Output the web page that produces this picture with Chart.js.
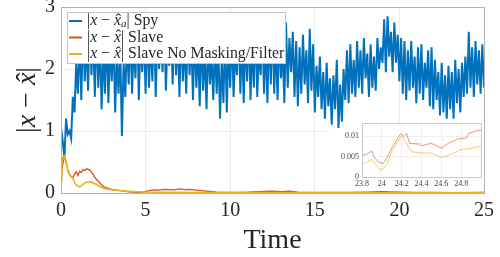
<!DOCTYPE html>
<html>
<head>
<meta charset="utf-8">
<script src="https://cdn.jsdelivr.net/npm/chart.js@4.4.0/dist/chart.umd.min.js"></script>
<style>
html, body { margin: 0; padding: 0; background: #fff; }
#wrap { position: relative; width: 500px; height: 257px; }
#inset { position: absolute; left: 328px; top: 117px; width: 156px; height: 74px; }
</style>
</head>
<body>
<div id="wrap">
  <canvas id="chart" width="500" height="257"></canvas>
  <div id="inset"><canvas id="zoom" width="156" height="74"></canvas></div>
</div>
<script>
// legend texts (x = italic, x̂ = x with hat, ₐ = subscript a)
var seriesLabels = ['|x − x̂ₐ| Spy', '|x − x̂| Slave', '|x − x̂| Slave No Masking/Filter'];
var seriesColors = ['#0072BD', '#D95319', '#EDB120'];
var yTitle = '|x − x̂|';
var xTitle = 'Time';

// Spy error, sampled every 0.1 s from t = 0 to 25
var spyStep = 0.1;
var spyError = [
  1.05, 0.85, 0.55, 1.2, 0.95, 1.0, 0.88, 1.55, 1.3, 2.1,
  1.6, 2.55, 1.5, 2.7, 1.8, 2.4, 1.65, 2.8, 1.9, 2.6,
  1.55, 2.75, 1.7, 2.5, 1.35, 2.3, 1.6, 2.65, 1.45, 2.4,
  1.8, 2.6, 1.3, 2.2, 1.6, 2.35, 0.92, 2.1, 1.55, 2.5,
  1.75, 2.7, 1.6, 2.45, 1.85, 2.8, 1.5, 2.55, 1.95, 2.6,
  1.6, 2.75, 1.7, 2.5, 1.8, 2.85, 1.55, 2.6, 2.0, 2.7,
  1.95, 2.8, 1.65, 2.55, 2.05, 2.7, 1.75, 2.85, 1.9, 2.6,
  1.55, 2.7, 1.8, 2.45, 1.6, 2.75, 1.9, 2.55, 1.5, 2.65,
  1.7, 2.4, 1.4, 2.6, 1.65, 2.3, 1.35, 2.5, 1.75, 2.2,
  1.5, 2.45, 1.6, 2.35, 1.2, 2.15, 1.45, 2.6, 1.3, 2.4,
  1.7, 2.65, 1.55, 2.3, 1.9, 2.75, 1.6, 2.5, 1.45, 2.6,
  1.8, 2.7, 1.5, 2.45, 1.7, 2.8, 1.55, 2.35, 1.9, 2.75,
  1.6, 2.5, 1.45, 2.7, 1.75, 2.8, 1.6, 2.45, 1.5, 2.6,
  1.85, 2.3, 1.45, 2.75, 1.7, 2.5, 1.95, 2.6, 1.55, 2.45,
  1.4, 2.35, 1.6, 2.55, 1.75, 2.3, 1.45, 2.65, 1.65, 2.4,
  1.3, 2.05, 1.55, 2.2, 1.35, 1.95, 1.2, 2.1, 1.4, 1.85,
  1.1, 1.9, 1.35, 2.15, 1.05, 1.75, 1.15, 2.0, 1.5, 2.3,
  1.45, 2.4, 1.6, 2.15, 1.55, 2.45, 1.7, 2.3, 1.6, 2.5,
  1.85, 2.25, 1.55, 2.4, 1.7, 2.2, 1.65, 2.5, 2.0, 2.35,
  2.1, 2.8, 1.95, 2.85, 2.2, 2.6, 1.95, 2.75, 2.1, 2.55,
  1.8, 2.5, 1.6, 2.45, 1.5, 2.3, 1.65, 2.45, 1.7, 2.2,
  1.45, 2.35, 1.6, 2.4, 1.5, 2.1, 1.7, 2.3, 1.4, 2.35,
  1.35, 2.15, 1.5, 1.95, 1.25, 2.1, 1.3, 1.9, 1.2, 2.05,
  1.35, 1.95, 1.2, 2.15, 1.45, 2.0, 1.3, 2.1, 1.55, 2.2,
  1.6, 2.6, 1.7, 2.35, 1.55, 2.45, 1.75, 2.3, 1.6, 2.4,
  1.7
];

var slaveTime = [0, 0.1, 0.2, 0.25, 0.3, 0.4, 0.5, 0.6, 0.7, 0.8,
  0.9, 1.0, 1.1, 1.2, 1.3, 1.4, 1.5, 1.6, 1.7, 1.8,
  1.9, 2.0, 2.2, 2.4, 2.6, 2.8, 3.0, 3.3, 3.6, 4.0,
  4.3, 4.6, 4.9, 5.2, 5.5, 5.8, 6.1, 6.4, 6.7, 7.0,
  7.3, 7.6, 8.0, 8.4, 8.8, 9.2, 9.6, 10, 11, 12,
  12.5, 13, 13.5, 14, 15, 16, 17, 18, 19, 20,
  21, 22, 23, 24, 25];
var slaveError = [0.25, 0.45, 0.58, 0.55, 0.5, 0.38, 0.3, 0.27, 0.25, 0.3,
  0.34, 0.28, 0.35, 0.33, 0.38, 0.36, 0.39, 0.38, 0.37, 0.34,
  0.3, 0.25, 0.19, 0.13, 0.09, 0.075, 0.06, 0.045, 0.035, 0.02,
  0.015, 0.01, 0.02, 0.04, 0.05, 0.045, 0.06, 0.055, 0.05, 0.065,
  0.055, 0.06, 0.045, 0.035, 0.025, 0.015, 0.01, 0.008, 0.012, 0.025,
  0.03, 0.02, 0.028, 0.015, 0.01, 0.008, 0.01, 0.015, 0.02, 0.012,
  0.01, 0.008, 0.006, 0.006, 0.011];

var noMaskTime = [0, 0.05, 0.1, 0.2, 0.3, 0.4, 0.5, 0.6, 0.7, 0.8,
  0.9, 1.0, 1.1, 1.2, 1.4, 1.6, 1.8, 2.0, 2.2, 2.4,
  2.6, 2.8, 3.0, 3.4, 3.8, 4.2, 4.6, 5.0, 6, 7,
  8, 10, 12, 15, 18, 21, 25];
var noMaskError = [0.2, 0.45, 0.58, 0.6, 0.5, 0.36, 0.29, 0.26, 0.24, 0.17,
  0.13, 0.11, 0.1, 0.12, 0.16, 0.18, 0.175, 0.15, 0.12, 0.09,
  0.07, 0.06, 0.05, 0.04, 0.03, 0.025, 0.02, 0.015, 0.012, 0.01,
  0.008, 0.006, 0.006, 0.005, 0.005, 0.005, 0.008];

// zoomed detail for the inset, 23.8 .. 25
var zoomSlaveTime = [23.8, 23.85, 23.9, 23.92, 23.96, 24.01, 24.04, 24.1, 24.19, 24.22, 24.25, 24.28,
  24.38, 24.4, 24.5, 24.55, 24.6, 24.67, 24.77, 24.85, 24.88, 24.96, 25];
var zoomSlave = [0.0053, 0.0056, 0.0064, 0.005, 0.0038, 0.0033, 0.0042, 0.0071, 0.0107, 0.01, 0.0107, 0.0083,
  0.0081, 0.0077, 0.0083, 0.0077, 0.0071, 0.0083, 0.0094, 0.0096, 0.0108, 0.0114, 0.0115];
var zoomNoMaskTime = [23.8, 23.9, 23.97, 24.0, 24.05, 24.1, 24.2, 24.3, 24.4, 24.5, 24.6, 24.7, 24.8, 24.9, 25];
var zoomNoMask = [0.0031, 0.0043, 0.0021, 0.0017, 0.0031, 0.0063, 0.0102, 0.0062, 0.0059, 0.0059, 0.0048, 0.0056, 0.0068, 0.007, 0.0077];

var serif = '"Liberation Serif", "Times New Roman", serif';
var textColor = '#262626';

function pairs(xs, ys) {
  return ys.map(function (v, i) { return { x: xs[i], y: v }; });
}

// split a label into roman / italic pieces
function mathRuns(str) {
  var runs = [];
  for (var i = 0; i < str.length; i++) {
    var c = str[i];
    if (c === 'x') {
      var hat = str[i + 1] === '\u0302';
      if (hat) i++;
      runs.push({ t: 'x', it: true, hat: hat });
    } else if (c === 'ₐ') {
      runs.push({ t: 'a', it: true, sub: true });
    } else if (runs.length && !runs[runs.length - 1].it) {
      runs[runs.length - 1].t += c;
    } else {
      runs.push({ t: c });
    }
  }
  return runs;
}

function drawMath(ctx, str, x, y, size, draw) {
  var cx = x;
  mathRuns(str).forEach(function (r) {
    var s = r.sub ? size * 0.7 : size;
    ctx.font = (r.it ? 'italic ' : '') + s + 'px ' + serif;
    var w = ctx.measureText(r.t).width;
    if (draw) {
      ctx.fillText(r.t, cx, r.sub ? y + size * 0.22 : y);
      if (r.hat) {
        ctx.font = size + 'px ' + serif;
        var hw = ctx.measureText('ˆ').width;
        ctx.fillText('ˆ', cx + (w - hw) / 2 + size * 0.06, y - size * 0.02);
      }
    }
    cx += w;
  });
  return cx - x;
}

var decorPlugin = {
  id: 'decor',
  afterDatasetsDraw: function (chart) {
    var ctx = chart.ctx, a = chart.chartArea;
    ctx.save();
    // axes box
    ctx.strokeStyle = '#b3b3b3';
    ctx.lineWidth = 1;
    ctx.strokeRect(Math.round(a.left) + 0.5, Math.round(a.top) + 0.5, Math.round(a.right - a.left), Math.round(a.bottom - a.top));
    // legend box
    var x0 = Math.round(a.left) + 6, y0 = Math.round(a.top) + 5, w = 218, h = 51;
    ctx.fillStyle = '#fff';
    ctx.fillRect(x0, y0, w, h);
    ctx.strokeStyle = '#c4c4c4';
    ctx.strokeRect(x0 + 0.5, y0 + 0.5, w, h);
    ctx.textBaseline = 'middle';
    ctx.textAlign = 'left';
    seriesLabels.forEach(function (label, i) {
      var y = y0 + 9 + i * 16.5;
      ctx.strokeStyle = seriesColors[i];
      ctx.lineWidth = 2;
      ctx.beginPath();
      ctx.moveTo(x0 + 2, y);
      ctx.lineTo(x0 + 15, y);
      ctx.stroke();
      ctx.fillStyle = textColor;
      drawMath(ctx, label, x0 + 20, y, 15.8, true);
    });
    // y title, rotated
    ctx.translate(28, (a.top + a.bottom) / 2);
    ctx.rotate(-Math.PI / 2);
    var tw = drawMath(ctx, yTitle, 0, 0, 28, false);
    drawMath(ctx, yTitle, -tw / 2, 0, 28, true);
    ctx.restore();
  }
};

var ctx = document.getElementById('chart').getContext('2d');

var chart = new Chart(ctx, {
  type: 'line',
  data: {
    datasets: [{
      label: seriesLabels[0],
      data: spyError.map(function (v, i) { return { x: i * spyStep, y: v }; }),
      borderColor: seriesColors[0],
      borderWidth: 2,
      order: 2
    }, {
      label: seriesLabels[1],
      data: pairs(slaveTime, slaveError),
      borderColor: seriesColors[1],
      borderWidth: 1.3,
      order: 1
    }, {
      label: seriesLabels[2],
      data: pairs(noMaskTime, noMaskError),
      borderColor: seriesColors[2],
      borderWidth: 1.6,
      order: 0
    }]
  },
  options: {
    responsive: false,
    animation: false,
    layout: { padding: { left: 0, right: 16, top: 7, bottom: 0 } },
    elements: { point: { radius: 0 }, line: { tension: 0 } },
    plugins: { legend: { display: false }, tooltip: { enabled: false } },
    scales: {
      x: {
        type: 'linear', min: 0, max: 25,
        ticks: { stepSize: 5, maxRotation: 0, padding: 6, color: textColor, font: { family: serif, size: 20 } },
        grid: { color: '#ebebeb', drawTicks: false },
        border: { color: '#b3b3b3' },
        title: { display: true, text: xTitle, color: textColor, font: { family: serif, size: 28 }, padding: { top: 0, bottom: 0 } },
        afterFit: function (s) { s.height = 64; s.paddingLeft = 0; s.paddingRight = 0; }
      },
      y: {
        min: 0, max: 3,
        ticks: { stepSize: 1, padding: 6, color: textColor, font: { family: serif, size: 20 } },
        grid: { color: '#ebebeb', drawTicks: false },
        border: { color: '#b3b3b3' },
        afterFit: function (s) { s.width = 61; s.paddingTop = 0; s.paddingBottom = 0; }
      }
    }
  },
  plugins: [decorPlugin]
});

// white backing + frame for the inset
var insetPlugin = {
  id: 'insetBack',
  beforeDraw: function (c) {
    var g = c.ctx, a = c.chartArea;
    g.save();
    g.fillStyle = '#fff';
    g.fillRect(a.left - 4, a.top, a.right - a.left + 7, c.height - a.top);
    g.fillRect(0, a.top + 8, a.left, c.height - a.top - 8);
    g.restore();
  },
  afterDatasetsDraw: function (c) {
    var g = c.ctx, a = c.chartArea;
    g.save();
    g.strokeStyle = '#c8c8c8';
    g.lineWidth = 1;
    g.strokeRect(Math.round(a.left) + 0.5, Math.round(a.top) + 0.5, Math.round(a.right - a.left), Math.round(a.bottom - a.top));
    g.restore();
  }
};

var zctx = document.getElementById('zoom').getContext('2d');

var zoomChart = new Chart(zctx, {
  type: 'line',
  data: {
    datasets: [{
      label: seriesLabels[1],
      data: pairs(zoomSlaveTime, zoomSlave),
      borderColor: 'rgba(217, 83, 25, 0.6)',
      borderWidth: 1,
      order: 1
    }, {
      label: seriesLabels[2],
      data: pairs(zoomNoMaskTime, zoomNoMask),
      borderColor: 'rgba(237, 177, 32, 0.65)',
      borderWidth: 1,
      order: 0
    }]
  },
  options: {
    responsive: false,
    animation: false,
    layout: { padding: { left: 0, right: 3, top: 6, bottom: 0 } },
    elements: { point: { radius: 0 }, line: { tension: 0 } },
    plugins: { legend: { display: false }, tooltip: { enabled: false } },
    scales: {
      x: {
        type: 'linear', min: 23.8, max: 25,
        ticks: {
          stepSize: 0.2, maxRotation: 0, padding: 2, color: '#444', font: { family: serif, size: 8 },
          callback: function (v) { return v > 24.95 ? '' : String(+v.toFixed(1)); }
        },
        grid: { color: '#f0f0f0', drawTicks: false },
        border: { color: '#c8c8c8' },
        afterFit: function (s) { s.height = 14; s.paddingLeft = 0; s.paddingRight = 0; }
      },
      y: {
        min: 0, max: 0.0133,
        ticks: {
          stepSize: 0.005, includeBounds: false, padding: 3, color: '#444', font: { family: serif, size: 8 },
          callback: function (v) { return String(+v.toFixed(4)); }
        },
        grid: { color: '#f0f0f0', drawTicks: false },
        border: { color: '#c8c8c8' },
        afterFit: function (s) { s.width = 34; s.paddingTop = 0; s.paddingBottom = 0; }
      }
    }
  },
  plugins: [insetPlugin]
});
</script>
</body>
</html>
